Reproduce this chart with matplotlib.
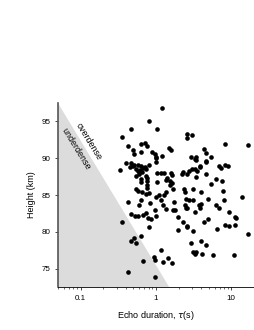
import numpy as np
import matplotlib
matplotlib.use("Agg")
import matplotlib.pyplot as plt
from matplotlib.ticker import LogLocator, NullFormatter, FixedLocator

# echo duration (s) and height (km)
tau = [1.21, 0.81, 0.47, 1.04, 0.35, 2.6, 2.6, 3.0, 8.3, 16.8,
       0.43, 0.49, 0.51, 0.64, 0.71, 0.76, 0.63, 0.9, 0.96, 1.01, 0.99, 1.21, 1.48, 1.6,
       4.36, 4.58, 5.3, 4.58, 2.89, 3.39, 3.33, 8.96,
       0.33, 0.40, 0.46, 0.51, 0.58, 0.63, 0.54, 0.60, 0.62, 0.71, 0.81, 0.99, 0.45, 0.49,
       0.68, 0.73, 0.58, 0.66,
       1.04, 1.17, 1.27, 1.57, 1.65,
       0.77, 0.77, 0.77, 0.77, 0.63, 0.64, 0.55, 0.74,
       1.4, 1.52, 1.55, 1.63, 1.04, 1.35,
       2.27, 2.2, 2.37,
       0.54, 0.57, 0.66, 0.73, 0.81, 0.99, 1.09, 1.27, 1.38, 1.69,
       0.43, 0.63, 0.6, 0.83, 1.17, 1.25, 1.72, 1.69, 1.8, 2.5,
       0.46, 0.52, 0.68, 0.73, 0.96, 1.34, 0.79, 0.85, 0.58, 0.99,
       2.56, 2.77, 2.97, 3.3, 3.53, 3.4, 3.9, 3.8, 4.6, 6.8, 8.3, 7.2,
       3.45, 4.66, 5.4, 6.3, 7.5, 3.06, 2.43, 2.5, 2.77, 4.0, 7.7, 14.0, 3.06, 4.9, 7.9,
       3.7, 4.0, 3.9, 2.43, 2.6, 3.3, 6.3, 6.8, 9.4, 4.9, 11.3,
       1.99, 2.27, 2.56, 1.99, 0.81, 0.64, 0.46, 0.51, 0.54, 0.36,
       1.15, 0.94, 0.96, 1.25, 1.43, 1.63, 0.68, 0.43, 0.96,
       2.6, 3.06, 4.4, 6.5, 8.3, 9.2, 11.3, 11.5, 16.8, 2.89, 4.0, 4.6, 3.1, 3.45, 3.3, 4.1,
       5.8, 10.9]
height = [96.8, 95.0, 93.9, 94.0, 92.9, 93.3, 92.8, 93.1, 91.9, 91.8,
          91.6, 91.1, 90.6, 91.9, 92.1, 91.7, 90.8, 90.8, 90.6, 90.2, 90.0, 90.3, 91.4, 91.1,
          91.3, 90.7, 90.1, 89.6, 90.2, 90.2, 89.9, 88.9,
          88.4, 89.3, 89.4, 89.1, 89.1, 89.0, 88.6, 87.9, 88.4, 88.8, 89.1, 89.5, 88.8, 88.9,
          88.7, 88.5, 88.2, 88.1,
          88.0, 88.0, 88.0, 88.0, 87.7,
          87.3, 86.9, 86.4, 85.9, 86.8, 87.2, 87.6, 87.6,
          87.3, 86.9, 86.4, 86.7, 86.8, 87.0,
          88.1, 87.8, 85.8,
          85.8, 85.5, 85.4, 85.2, 85.3, 84.7, 85.0, 85.0, 85.4, 85.8,
          84.0, 84.3, 83.7, 83.9, 84.3, 83.6, 84.1, 82.9, 83.0, 83.2,
          82.4, 82.2, 82.3, 82.6, 82.9, 83.1, 81.9, 81.8, 82.2, 82.1,
          87.9, 88.2, 88.6, 88.5, 88.2, 89.7, 88.9, 88.8, 89.5, 89.0, 89.1, 88.7,
          87.4, 87.8, 86.5, 87.2, 86.9, 85.8, 85.4, 84.5, 84.3, 85.4, 85.5, 84.8, 84.3, 84.5, 84.3,
          83.6, 83.8, 83.3, 83.6, 83.3, 82.7, 83.6, 83.3, 82.7, 81.8, 82.0,
          82.0, 81.3, 80.8, 80.2, 80.6, 79.4, 78.8, 79.2, 78.5, 81.4,
          77.5, 76.6, 76.2, 75.9, 76.5, 75.8, 76.0, 74.5, 73.9,
          80.7, 80.1, 81.4, 80.4, 80.9, 80.8, 80.9, 81.9, 79.7, 78.5, 78.7, 78.2, 77.3, 77.2, 77.0, 77.0,
          76.8, 76.9]

# underdense / overdense boundary
boundary_tau = [0.05, 1.5]
boundary_h = [97.5, 72.5]

plt.rcParams['font.family'] = ['Liberation Sans', 'DejaVu Sans']

fig = plt.figure(figsize=(2.55, 3.3), dpi=100)
ax = fig.add_axes([0.227, 0.130, 0.769, 0.558])

ax.fill([boundary_tau[0], boundary_tau[1], boundary_tau[0]],
        [boundary_h[0], boundary_h[1], boundary_h[1]],
        color='#dcdcdc', lw=0, zorder=1)
ax.scatter(tau, height, s=11, color='black', lw=0, zorder=3)

ax.text(0.127, 92.3, 'overdense', rotation=-58.5, ha='center', va='center',
        fontsize=6.4, rotation_mode='anchor')
ax.text(0.088, 91.2, 'underdense', rotation=-58.5, ha='center', va='center',
        fontsize=6.4, rotation_mode='anchor')

ax.set_xscale('log')
ax.set_xlim(0.05, 20)
ax.set_ylim(72.5, 97.5)
ax.xaxis.set_major_locator(FixedLocator([0.1, 1, 10]))
ax.set_xticklabels(['0.1', '1', '10'])
ax.xaxis.set_minor_locator(LogLocator(base=10, subs=np.arange(2, 10)))
ax.xaxis.set_minor_formatter(NullFormatter())
ax.set_yticks([75, 80, 85, 90, 95])

for s in ['top', 'right']:
    ax.spines[s].set_visible(False)
ax.spines['left'].set_linewidth(1.2)
ax.spines['left'].set_color('#555555')
ax.spines['bottom'].set_linewidth(0.6)
ax.tick_params(axis='both', which='major', labelsize=5.8, length=2.5, width=0.5, pad=3)
ax.tick_params(axis='x', which='minor', length=1.5, width=0.4)

ax.set_xlabel('Echo duration, $\\tau$(s)', fontsize=6.5, labelpad=5)
ax.set_ylabel('Height (km)', fontsize=6.5, labelpad=4)

fig.savefig('out.png', dpi=100)
